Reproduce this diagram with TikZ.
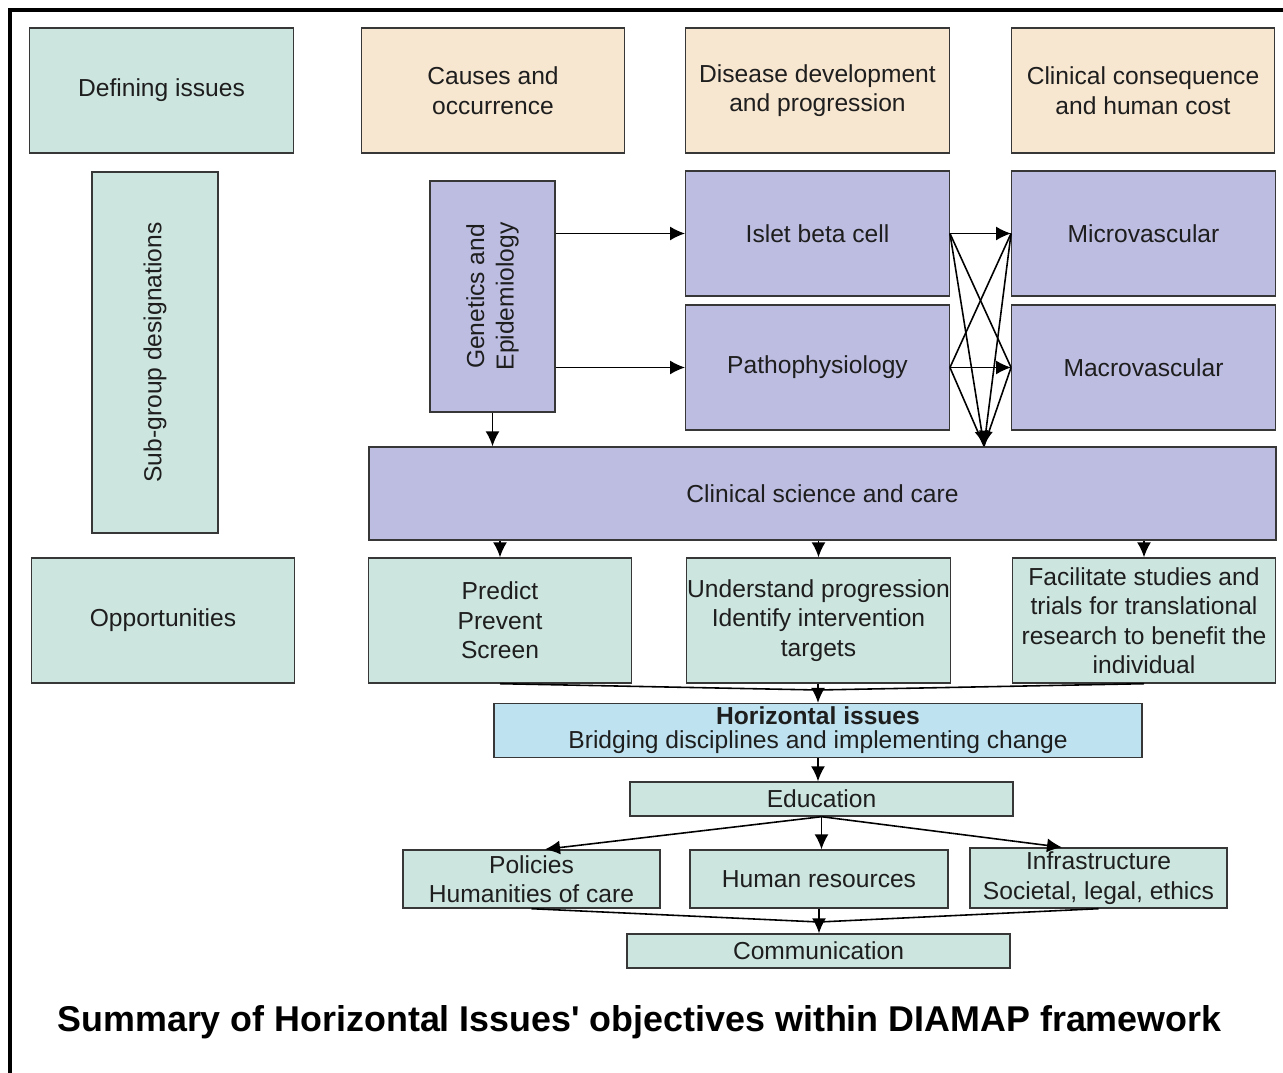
\documentclass[tikz,border=0pt]{standalone}
\usepackage{fontspec}
\setmainfont{Liberation Sans}
\usetikzlibrary{arrows.meta}

\definecolor{tealfill}{RGB}{205,229,223}
\definecolor{sandfill}{RGB}{248,231,208}
\definecolor{lilacfill}{RGB}{189,189,226}
\definecolor{skyfill}{RGB}{190,226,240}
\definecolor{edgegray}{RGB}{55,55,55}
\definecolor{inkgray}{RGB}{30,30,30}

\begin{document}
\begin{tikzpicture}[
    cell/.style={draw=edgegray, line width=0.8pt, align=center, inner xsep=0.5pt, inner ysep=2pt,
        text=inkgray, font=\fontsize{14}{16.8}\selectfont},
    tealcell/.style={cell, fill=tealfill},
    sandcell/.style={cell, fill=sandfill},
    lilaccell/.style={cell, fill=lilacfill},
    skycell/.style={cell, fill=skyfill},
    bigcell/.style={minimum width=5.27cm, minimum height=2.5cm},
    arr/.style={-{Latex[length=3mm,width=2.8mm]}, line width=0.9pt},
    lnk/.style={line width=0.9pt}
]
\useasboundingbox (0,0) rectangle (25.66,-21.46);

% Frame
\draw [line width=1.8pt] (0.2,-21.46) |- (25.66,-0.2);

% Row of headings
\node [tealcell, bigcell] (defining) at (3.23,-1.81) {Defining issues};
\node [sandcell, bigcell] (causes) at (9.86,-1.81) {Causes and\\occurrence};
\node [sandcell, bigcell] (disease) at (16.35,-1.81) {Disease development\\and progression};
\node [sandcell, bigcell] (consequence) at (22.86,-1.81) {Clinical consequence\\and human cost};

% Sub-groups
\node [tealcell, rotate=90,
    minimum width=7.22cm,
    minimum height=2.52cm] (subgroup) at (3.10,-7.05) {Sub-group designations};
\node [lilaccell, rotate=90,
    minimum width=4.62cm,
    minimum height=2.5cm] (genetics) at (9.85,-5.93) {Genetics and\\Epidemiology};
\node [lilaccell, bigcell] (islet) at (16.35,-4.67) {Islet beta cell};
\node [lilaccell, bigcell] (patho) at (16.35,-7.35) {Pathophysiology};
\node [lilaccell, bigcell] (micro) at (22.87,-4.67) {Microvascular};
\node [lilaccell, bigcell] (macro) at (22.87,-7.35) {Macrovascular};
\node [lilaccell,
    minimum width=18.14cm,
    minimum height=1.86cm] (clinsci) at (16.45,-9.87) {Clinical science and care};

% Opportunities
\node [tealcell, bigcell] (opportunities) at (3.26,-12.41) {Opportunities};
\node [tealcell, bigcell] (predict) at (10.00,-12.41) {Predict\\Prevent\\Screen};
\node [tealcell, bigcell] (understand) at (16.37,-12.41) {Understand progression\\Identify intervention\\targets};
\node [tealcell, bigcell] (facilitate) at (22.88,-12.41) {Facilitate studies and\\trials for translational\\research to benefit the\\individual};

% Horizontal issues
\node [skycell,
    minimum width=12.96cm,
    minimum height=1.06cm,
    font=\fontsize{14}{13.6}\selectfont] (horizontal) at (16.36,-14.61) {\textbf{Horizontal issues}\\Bridging disciplines and implementing change};
\node [tealcell, minimum width=7.66cm, minimum height=0.68cm] (education) at (16.43,-15.98) {Education};
\node [tealcell, minimum width=5.14cm, minimum height=1.16cm] (policies) at (10.63,-17.58) {Policies\\Humanities of care};
\node [tealcell, minimum width=5.16cm, minimum height=1.16cm] (resources) at (16.38,-17.58) {Human resources};
\node [tealcell, minimum width=5.14cm, minimum height=1.2cm] (infra) at (21.97,-17.56) {Infrastructure\\Societal, legal, ethics};
\node [tealcell, minimum width=7.66cm, minimum height=0.68cm] (communication) at (16.37,-19.02) {Communication};

% Title
\node [text=black, font=\fontsize{20.4}{24}\selectfont\bfseries] (title) at (12.79,-20.44)
    {Summary of Horizontal Issues\textquotesingle\ objectives within DIAMAP framework};

% Junctions
\coordinate (vhub) at (19.68,-8.92);
\coordinate (ojoin) at (16.36,-13.80);
\coordinate (cjoin) at (16.38,-18.44);

% Genetics links
\draw [arr] (genetics.south |- islet.west) -- (islet.west);
\draw [arr] (genetics.south |- patho.west) -- (patho.west);
\draw [arr] (genetics.west) -- (genetics.west |- clinsci.north);

% Crossing links
\draw [arr] (islet.east) -- (micro.west);
\draw [arr] (patho.east) -- (macro.west);
\draw [lnk] (islet.east) -- (macro.west);
\draw [lnk] (patho.east) -- (micro.west);
\draw [arr] (islet.east) -- (vhub);
\draw [arr] (micro.west) -- (vhub);
\draw [lnk] (patho.east) -- (vhub);
\draw [lnk] (macro.west) -- (vhub);

% Clinical science to opportunities
\draw [arr] (predict.north |- clinsci.south) -- (predict.north);
\draw [arr] (understand.north |- clinsci.south) -- (understand.north);
\draw [arr] (facilitate.north |- clinsci.south) -- (facilitate.north);

% Opportunities to horizontal issues
\draw [lnk] (predict.south) -- (ojoin);
\draw [lnk] (facilitate.south) -- (ojoin);
\draw [arr] (horizontal.north |- understand.south) -- (horizontal.north);

% Horizontal issues downwards
\draw [arr] (horizontal.south) -- (horizontal.south |- education.north);
\draw [arr] (education.south) -- ([xshift=0.27cm]policies.north);
\draw [arr] (education.south) -- (education.south |- resources.north);
\draw [arr] (education.south) -- ([xshift=-0.73cm]infra.north);
\draw [lnk] (policies.south) -- (cjoin);
\draw [lnk] (infra.south) -- (cjoin);
\draw [arr] (resources.south) -- (resources.south |- communication.north);

\end{tikzpicture}
\end{document}
